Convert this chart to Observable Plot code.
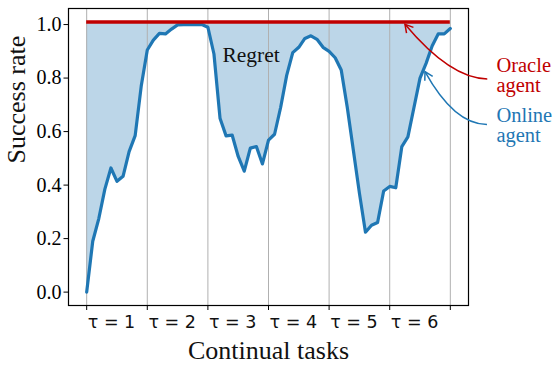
<!DOCTYPE html>
<html>
<head>
<meta charset="utf-8">
<script src="https://cdn.jsdelivr.net/npm/d3@7"></script>
<script src="https://cdn.jsdelivr.net/npm/@observablehq/plot@0.6"></script>
<style>
  html, body { margin: 0; padding: 0; background: #fff; }
</style>
</head>
<body>
<div id="chart"></div>
<script>
// ---- data ----
const taskBoundaries = [0, 1, 2, 3, 4, 5, 6];
const taskLabels = ["τ = 1", "τ = 2", "τ = 3", "τ = 4", "τ = 5", "τ = 6"];
const labelOffset = 0.41;
const yTicks = [0, 0.2, 0.4, 0.6, 0.8, 1.0];
const episodesPerTask = 10;
const oracleRate = 1.01;
const onlineRate = [
  0.000, 0.190, 0.275, 0.385, 0.464, 0.414, 0.433, 0.525, 0.585, 0.770,
  0.905, 0.942, 0.967, 0.965, 0.983, 0.999, 1.000, 1.000, 1.000, 1.000,
  0.990, 0.890, 0.650, 0.584, 0.587, 0.507, 0.452, 0.538, 0.544, 0.479,
  0.568, 0.590, 0.690, 0.810, 0.895, 0.915, 0.948, 0.958, 0.945, 0.915,
  0.900, 0.876, 0.830, 0.690, 0.530, 0.370, 0.224, 0.250, 0.260, 0.378,
  0.395, 0.390, 0.544, 0.580, 0.690, 0.800, 0.855, 0.920, 0.965, 0.965,
  0.985
];
const regretLabel = ["Regret"];
const regretX = [2.24];
const regretY = [0.885];

const annotationText = ["Oracle\nagent", "Online\nagent"];
const annotationColor = ["#c00000", "#1f77b4"];
const annotationTextX = [6.76, 6.76];
const annotationTextY = [0.875, 0.689];
const arrowTailX = [6.618, 6.613];
const arrowTailY = [0.795, 0.6245];
const arrowHeadX = [5.26, 5.59];
const arrowHeadY = [0.999, 0.822];
const arrowEndAngle = [50, 61];

// ---- table ----
const table = onlineRate.map((v, i) => ({task: i / episodesPerTask, online: v, oracle: oracleRate}));
const taskMin = d3.min(taskBoundaries), taskMax = d3.max(taskBoundaries);

// custom annotation arrows (quadratic curve, horizontal start, open arrowhead)
function annotationArrows(index, scales) {
  const sx = scales.x, sy = scales.y;
  const g = d3.create("svg:g");
  annotationText.forEach((_, i) => {
    const S = [sx(arrowTailX[i]), sy(arrowTailY[i])];
    const E = [sx(arrowHeadX[i]), sy(arrowHeadY[i])];
    const A = arrowEndAngle[i] * Math.PI / 180;
    const k = (S[1] - E[1]) / Math.sin(A);
    const C = [E[0] + k * Math.cos(A), S[1]];
    g.append("path")
      .attr("d", `M${S[0]},${S[1]}Q${C[0]},${C[1]} ${E[0]},${E[1]}`)
      .attr("fill", "none").attr("stroke", annotationColor[i]).attr("stroke-width", 1.5);
    const dx = E[0] - C[0], dy = E[1] - C[1], len = Math.hypot(dx, dy);
    const bx = -dx / len, by = -dy / len;
    const L = 9, h = 30 * Math.PI / 180;
    const rot = (a) => [E[0] + L * (bx * Math.cos(a) - by * Math.sin(a)), E[1] + L * (bx * Math.sin(a) + by * Math.cos(a))];
    const p1 = rot(h), p2 = rot(-h);
    g.append("path")
      .attr("d", `M${p1[0]},${p1[1]}L${E[0]},${E[1]}L${p2[0]},${p2[1]}`)
      .attr("fill", "none").attr("stroke", annotationColor[i]).attr("stroke-width", 1.5);
  });
  return g.node();
}

const chart = Plot.plot({
  width: 558,
  height: 367,
  marginLeft: 68,
  marginRight: 90,
  marginTop: 8,
  marginBottom: 62,
  style: {background: "#fff", fontFamily: "Liberation Serif", overflow: "visible", color: "#000"},
  x: {domain: [-0.3, 6.3], axis: null},
  y: {domain: [-0.05, 1.06], axis: null},
  marks: [
    Plot.areaY(table, {x: "task", y1: "online", y2: "oracle", fill: "#bcd6e8"}),
    Plot.gridX(taskBoundaries, {stroke: "#b0b0b0", strokeOpacity: 1, strokeWidth: 1}),
    Plot.lineY(table, {x: "task", y: "online", stroke: "#1f77b4", strokeWidth: 3.2, strokeLinejoin: "round", strokeLinecap: "round"}),
    Plot.ruleY([oracleRate], {x1: taskMin, x2: taskMax, stroke: "#c00000", strokeWidth: 3.5}),
    Plot.frame({stroke: "#000", strokeWidth: 1.2}),
    Plot.axisY({ticks: yTicks, tickFormat: d3.format(".1f"), tickSize: 4.5, tickPadding: 2.5, fontSize: 20, label: null}),
    Plot.axisX({ticks: taskBoundaries, tickFormat: () => "", tickSize: 5, label: null}),
    Plot.text(taskLabels, {text: d => d, x: (d, i) => i + labelOffset, frameAnchor: "bottom", lineAnchor: "top", dy: 10, fontSize: 17.5, fontFamily: "DejaVu Sans", fill: "#111"}),
    Plot.text(["Continual tasks"], {text: d => d, frameAnchor: "bottom", lineAnchor: "middle", dy: 45, fontSize: 26, fill: "#111"}),
    Plot.text(["Success rate"], {text: d => d, frameAnchor: "left", rotate: -90, lineAnchor: "middle", dx: -52.3, dy: 6.5, fontSize: 26, fill: "#111"}),
    Plot.text(regretLabel, {text: d => d, x: (d, i) => regretX[i], y: (d, i) => regretY[i], textAnchor: "start", lineAnchor: "middle", fontSize: 21.5, fill: "#111"}),
    Plot.text(annotationText, {text: d => d, x: (d, i) => annotationTextX[i], y: (d, i) => annotationTextY[i], fill: (d, i) => annotationColor[i], textAnchor: "start", lineAnchor: "top", lineHeight: 0.98, fontSize: 20.5}),
    annotationArrows
  ]
});
document.getElementById("chart").append(chart);
</script>
</body>
</html>
